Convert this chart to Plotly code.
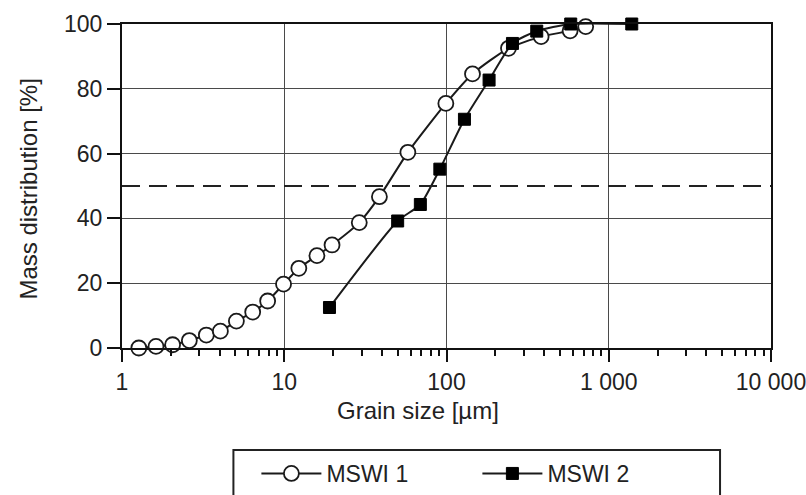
import plotly.graph_objects as go

# ---- data ----
mswi1_size = [1.27, 1.62, 2.05, 2.6, 3.31, 4.04, 5.07, 6.39, 7.9, 9.9, 12.3, 15.9, 19.7,
              29.0, 38.6, 57.8, 99.1, 144.6, 241, 383, 578, 721]
mswi1_mass = [0.0, 0.5, 1.0, 2.3, 4.0, 5.2, 8.3, 11.1, 14.5, 19.7, 24.6, 28.5, 31.8,
              38.7, 46.7, 60.4, 75.5, 84.6, 92.5, 96.1, 97.9, 99.2]
mswi2_size = [19, 50, 69, 91, 129, 183, 255, 360, 583, 1386]
mswi2_mass = [12.5, 39.2, 44.3, 55.2, 70.6, 82.7, 94.0, 97.8, 100, 100]

x_tickvals = [1, 10, 100, 1000, 10000]
x_ticktext = ["1", "10", "100", "1 000", "10 000"]
y_tickvals = [0, 20, 40, 60, 80, 100]
d50_level = 50

FONT = "Liberation Sans, Arial, sans-serif"
FS_TICK = 23
FS_TITLE = 24
W, H = 806, 495
L, R, T, B = 121.5, 35, 24, 147
pw, ph = W - L - R, H - T - B

def px_x(p):
    return (p - L) / pw

def px_y(p):
    return (H - B - p) / ph

fig = go.Figure()
fig.add_trace(go.Scatter(
    x=mswi1_size, y=mswi1_mass, name="MSWI 1", mode="lines+markers",
    line=dict(color="#1a1a1a", width=2, shape="spline", smoothing=0.6),
    marker=dict(symbol="circle", size=15, color="white", line=dict(color="#1a1a1a", width=1.8)),
    cliponaxis=False))
fig.add_trace(go.Scatter(
    x=mswi2_size, y=mswi2_mass, name="MSWI 2", mode="lines+markers",
    line=dict(color="#1a1a1a", width=2, shape="spline", smoothing=0.6),
    marker=dict(symbol="square", size=12, color="black", line=dict(color="black", width=1)),
    cliponaxis=False))

minor_vals = [m * 10 ** k for k in range(4) for m in range(2, 10)]

fig.update_layout(
    width=W, height=H, margin=dict(l=L, r=R, t=T, b=B, autoexpand=False),
    paper_bgcolor="white", plot_bgcolor="white",
    font=dict(family=FONT, size=FS_TICK, color="#222"),
    showlegend=True,
    legend=dict(orientation="h", x=px_x(256), y=px_y(452), xanchor="left", yanchor="top",
                bgcolor="rgba(0,0,0,0)", borderwidth=0, itemwidth=60,
                entrywidth=146, entrywidthmode="pixels",
                font=dict(family=FONT, size=FS_TICK, color="#222")),
    xaxis=dict(type="log", range=[0, 4], tickmode="array", tickvals=x_tickvals, ticktext=x_ticktext,
               ticklabeloverflow="allow",
               showgrid=True, gridcolor="#4a4a4a", gridwidth=1.3,
               showline=True, linecolor="#111", linewidth=2, mirror=True,
               ticks="outside", ticklen=12, tickwidth=2, tickcolor="#111",
               minor=dict(tickmode="array", tickvals=minor_vals, ticks="outside", ticklen=6,
                          tickwidth=1.5, tickcolor="#111", showgrid=False),
               zeroline=False),
    yaxis=dict(range=[0, 100], tickmode="array", tickvals=y_tickvals,
               showgrid=True, gridcolor="#4a4a4a", gridwidth=1.3,
               showline=True, linecolor="#111", linewidth=2, mirror=True,
               ticks="outside", ticklen=13, tickwidth=2, tickcolor="#111",
               zeroline=False),
)

# 50 % dashed line
fig.add_shape(type="line", xref="paper", x0=0, x1=1, yref="y", y0=d50_level, y1=d50_level,
              line=dict(color="#222", width=2.2, dash="18px,9px"))

# axis titles
fig.add_annotation(text="Grain size [µm]", xref="paper", yref="paper", x=px_x(418), y=px_y(410),
                   xanchor="center", yanchor="middle",
                   showarrow=False, font=dict(family=FONT, size=FS_TITLE, color="#222"))
fig.add_annotation(text="Mass distribution [%]", xref="paper", yref="paper", x=px_x(27), y=px_y(189),
                   xanchor="center", yanchor="middle",
                   showarrow=False, textangle=-90, font=dict(family=FONT, size=FS_TITLE, color="#222"))

# legend frame (extends past the bottom edge as in the reference)
fig.add_shape(type="rect", xref="paper", yref="paper",
              x0=px_x(233), x1=px_x(720), y0=px_y(505), y1=px_y(450),
              line=dict(color="#222", width=2), fillcolor="rgba(0,0,0,0)")

fig.write_html("out.html")
